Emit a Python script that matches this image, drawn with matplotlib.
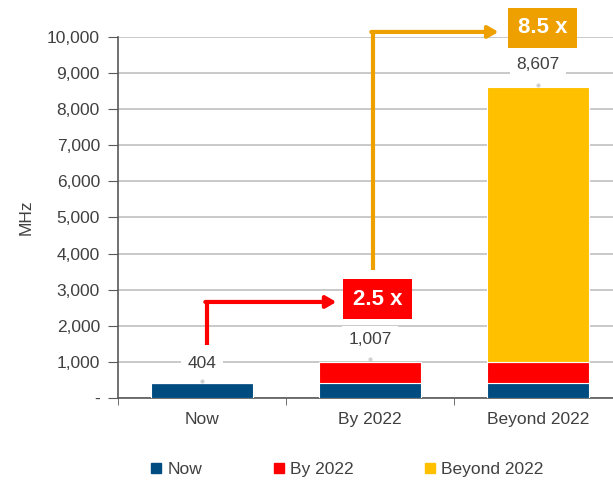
import matplotlib
matplotlib.use("Agg")
import matplotlib.pyplot as plt
from matplotlib.lines import Line2D
import numpy as np

plt.rcParams['font.family'] = ['Liberation Sans', 'DejaVu Sans']

categories = ["Now", "By 2022", "Beyond 2022"]
series_names = ["Now", "By 2022", "Beyond 2022"]
now_vals = [404, 404, 404]
by2022_vals = [0, 603, 603]
beyond_vals = [0, 0, 7600]
totals = [404, 1007, 8607]
total_labels = ["404", "1,007", "8,607"]
multipliers = ["2.5 x", "8.5 x"]
yticks = [0, 1000, 2000, 3000, 4000, 5000, 6000, 7000, 8000, 9000, 10000]
ytick_labels = ["-", "1,000", "2,000", "3,000", "4,000", "5,000", "6,000", "7,000", "8,000", "9,000", "10,000"]

colors = ["#004b80", "#ff0000", "#ffc000"]
arrow_colors = ["#ff0000", "#eea000"]
text_col = "#404040"
fs = 12.5

fig = plt.figure(figsize=(6.13, 4.83), dpi=100)
ax = fig.add_axes([0.1925, 0.176, 0.822, 0.7474])

x = np.arange(len(categories))
w = 0.61
bottom = np.zeros(3)
for vals, c, name in zip([now_vals, by2022_vals, beyond_vals], colors, series_names):
    v = np.array(vals, dtype=float)
    ax.bar(x, v, w, bottom=bottom, color=c, edgecolor="white", linewidth=0.8,
           label=name, zorder=3)
    bottom += v

ax.set_xlim(-0.5, 2.5)
ax.set_ylim(0, 10000)
ax.set_yticks(yticks)
ax.set_yticklabels(ytick_labels, fontsize=fs, color=text_col)
ax.set_xticks(x)
ax.set_xticklabels(categories, fontsize=fs, color=text_col)
ax.tick_params(axis='x', which='major', length=0, pad=10)
ax.set_xticks([-0.5, 0.5, 1.5, 2.5], minor=True)
ax.tick_params(axis='x', which='minor', length=5, direction='out', color="#595959")
ax.tick_params(axis='y', length=7, direction='out', color="#595959", pad=6)
ax.set_ylabel("MHz", fontsize=fs, color=text_col)
ax.yaxis.set_label_coords(-0.168, 0.5)

for s in ["top", "right"]:
    ax.spines[s].set_visible(False)
for s in ["left", "bottom"]:
    ax.spines[s].set_color("#595959")
    ax.spines[s].set_linewidth(1.2)
ax.grid(axis='y', color="#c0c0c0", linewidth=1.2, zorder=0)
ax.set_axisbelow(True)

# total labels
offsets = [560, 620, 640]
for xi, t, lab, off in zip(x, totals, total_labels, offsets):
    ax.plot(xi, t + 60, marker='o', ms=2, color="#d0d0d0", zorder=4)
    ax.text(xi, t + off, lab, ha='center', va='center', fontsize=fs, color=text_col,
            bbox=dict(facecolor='white', edgecolor='none', pad=4.5), zorder=5)

# red arrow
ax.plot([0.03, 0.03], [1470, 2660], color=arrow_colors[0], lw=3, solid_capstyle='butt',
        zorder=6, clip_on=False)
ax.annotate("", xy=(0.80, 2660), xytext=(0.02, 2660),
            arrowprops=dict(arrowstyle='-|>,head_length=0.6,head_width=0.35', color=arrow_colors[0],
                            lw=3, shrinkA=0, shrinkB=0), zorder=6, annotation_clip=False)
ax.text(1.045, 2740, multipliers[0], ha='center', va='center', fontsize=16, fontweight='bold',
        color='white', bbox=dict(facecolor=arrow_colors[0], edgecolor='none', pad=7), zorder=7)

# orange arrow
ax.plot([1.018, 1.018], [3550, 10140], color=arrow_colors[1], lw=3, solid_capstyle='butt',
        zorder=6, clip_on=False)
ax.annotate("", xy=(1.765, 10140), xytext=(1.008, 10140),
            arrowprops=dict(arrowstyle='-|>,head_length=0.6,head_width=0.35', color=arrow_colors[1],
                            lw=3, shrinkA=0, shrinkB=0), zorder=6, annotation_clip=False)
ax.text(2.03, 10250, multipliers[1], ha='center', va='center', fontsize=16, fontweight='bold',
        color='white', bbox=dict(facecolor=arrow_colors[1], edgecolor='none', pad=7), zorder=7,
        clip_on=False)

handles = [Line2D([0], [0], marker='s', linestyle='none', markersize=6.5, color=c) for c in colors]
fig.legend(handles, series_names, loc='center', bbox_to_anchor=(0.565, 0.028), ncol=3,
           frameon=False, fontsize=fs, handletextpad=0.25, columnspacing=4.0,
           labelcolor=text_col, handlelength=0.8)

fig.savefig("out.png", dpi=100)
